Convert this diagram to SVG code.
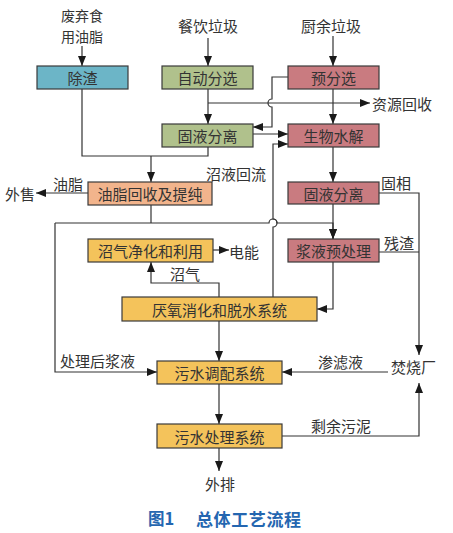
<svg xmlns="http://www.w3.org/2000/svg" width="453" height="533" viewBox="0 0 453 533">
<defs>
<marker id="ah" markerUnits="userSpaceOnUse" markerWidth="10" markerHeight="10" viewBox="0 0 10 10" refX="10" refY="5" orient="auto">
<path d="M0,1 L10,5 L0,9 Z" fill="#1a1a1a"/>
</marker>
<style>
.b{stroke:#3a3a3a;stroke-width:1.2}
.t{font-family:"Noto Sans CJK SC","Noto Sans CJK JP",sans-serif;font-size:15px;fill:#333;text-anchor:middle;dominant-baseline:central}
.l{font-family:"Noto Sans CJK SC","Noto Sans CJK JP",sans-serif;font-size:15px;fill:#333;text-anchor:start;dominant-baseline:central}
.c{fill:none;stroke:#333;stroke-width:1.2}
.a{marker-end:url(#ah)}
.teal{fill:#6cb5c7}.green{fill:#b0c18c}.pink{fill:#c97b80}.salmon{fill:#f2b48c}.yel{fill:#f4c35b}
</style>
</defs>
<rect width="453" height="533" fill="#fff"/>
<g id="connectors">
<path class="c a" d="M82,46 V66"/>
<path class="c a" d="M208,38 V66"/>
<path class="c a" d="M333,36 V66"/>
<path class="c a" d="M208,89 V124"/>
<path class="c a" d="M208,103 H370"/>
<path class="c a" d="M333,89 V124"/>
<path class="c a" d="M288,77 H272 V99 A4,4 0 0 0 272,107 V127 H253"/>
<path class="c a" d="M253,134 H288"/>
<path class="c a" d="M273,297 V227 A4,4 0 0 0 273,219 V144 H288"/>
<path class="c" d="M82,89 V156 H208 V147"/>
<path class="c a" d="M151,156 V182"/>
<path class="c a" d="M88,193 H36"/>
<path class="c" d="M151,205 V223"/>
<path class="c a" d="M55,223 V372 H157"/>
<path class="c a" d="M55,223 H269 A4,4 0 0 1 277,223 H333 V239"/>
<path class="c a" d="M333,147 V182"/>
<path class="c a" d="M333,204 V239"/>
<path class="c a" d="M379,193 H419 V355"/>
<path class="c" d="M379,252 H419"/>
<path class="c a" d="M333,262 V309 H317"/>
<path class="c a" d="M219,297 V283 H151 V262"/>
<path class="c a" d="M213,250 H229"/>
<path class="c a" d="M219,321 V361"/>
<path class="c a" d="M388,372 H282"/>
<path class="c a" d="M219,384 V424"/>
<path class="c a" d="M282,436 H419 V383"/>
<path class="c a" d="M219,448 V471"/>
</g>
<g id="n_chuzha"><rect class="b teal" x="37" y="66" width="91" height="23"/><text class="t" x="82.5" y="77.5">除渣</text></g>
<g id="n_zidongfenxuan"><rect class="b green" x="162" y="66" width="91" height="23"/><text class="t" x="207.5" y="77.5">自动分选</text></g>
<g id="n_yufenxuan"><rect class="b pink" x="288" y="66" width="91" height="23"/><text class="t" x="333.5" y="77.5">预分选</text></g>
<g id="n_guye1"><rect class="b green" x="162" y="124" width="91" height="23"/><text class="t" x="207.5" y="135.5">固液分离</text></g>
<g id="n_shengwu"><rect class="b pink" x="288" y="124" width="91" height="23"/><text class="t" x="333.5" y="135.5">生物水解</text></g>
<g id="n_youzhi"><rect class="b salmon" x="88" y="182" width="124" height="23"/><text class="t" x="150" y="193.5">油脂回收及提纯</text></g>
<g id="n_guye2"><rect class="b pink" x="288" y="182" width="91" height="22"/><text class="t" x="333.5" y="193">固液分离</text></g>
<g id="n_zhaoqi"><rect class="b yel" x="88" y="239" width="125" height="23"/><text class="t" x="150.5" y="250.5">沼气净化和利用</text></g>
<g id="n_jiangye"><rect class="b pink" x="288" y="239" width="91" height="23"/><text class="t" x="333.5" y="250.5">浆液预处理</text></g>
<g id="n_yanyang"><rect class="b yel" x="122" y="297" width="195" height="24"/><text class="t" x="219.5" y="309">厌氧消化和脱水系统</text></g>
<g id="n_tiaopei"><rect class="b yel" x="157" y="361" width="125" height="23"/><text class="t" x="219.5" y="372.5">污水调配系统</text></g>
<g id="n_chuli"><rect class="b yel" x="157" y="424" width="125" height="24"/><text class="t" x="219.5" y="436">污水处理系统</text></g>
<g id="labels">
<text class="t" x="82" y="14.5" style="font-size:14px">废弃食</text>
<text class="t" x="82" y="35.5" style="font-size:14px">用油脂</text>
<text class="t" x="208" y="25">餐饮垃圾</text>
<text class="t" x="331" y="25">厨余垃圾</text>
<text class="l" x="372" y="103">资源回收</text>
<text class="l" x="5" y="193">外售</text>
<text class="l" x="53" y="183">油脂</text>
<text class="l" x="206" y="173">沼液回流</text>
<text class="l" x="381" y="182">固相</text>
<text class="l" x="384" y="242">残渣</text>
<text class="l" x="229" y="251">电能</text>
<text class="l" x="170" y="273">沼气</text>
<text class="l" x="60" y="360">处理后浆液</text>
<text class="l" x="318" y="361">渗滤液</text>
<text class="l" x="391" y="366">焚烧厂</text>
<text class="l" x="311" y="425">剩余污泥</text>
<text class="t" x="220" y="483">外排</text>
<text font-family="Noto Sans CJK SC, sans-serif" font-size="16.5" font-weight="bold" fill="#2466b0" x="148" y="518" dominant-baseline="central">图1</text>
<text font-family="Noto Sans CJK SC, sans-serif" font-size="17" font-weight="bold" fill="#2466b0" x="196" y="518" dominant-baseline="central" textLength="105">总体工艺流程</text>
</g>
</svg>
